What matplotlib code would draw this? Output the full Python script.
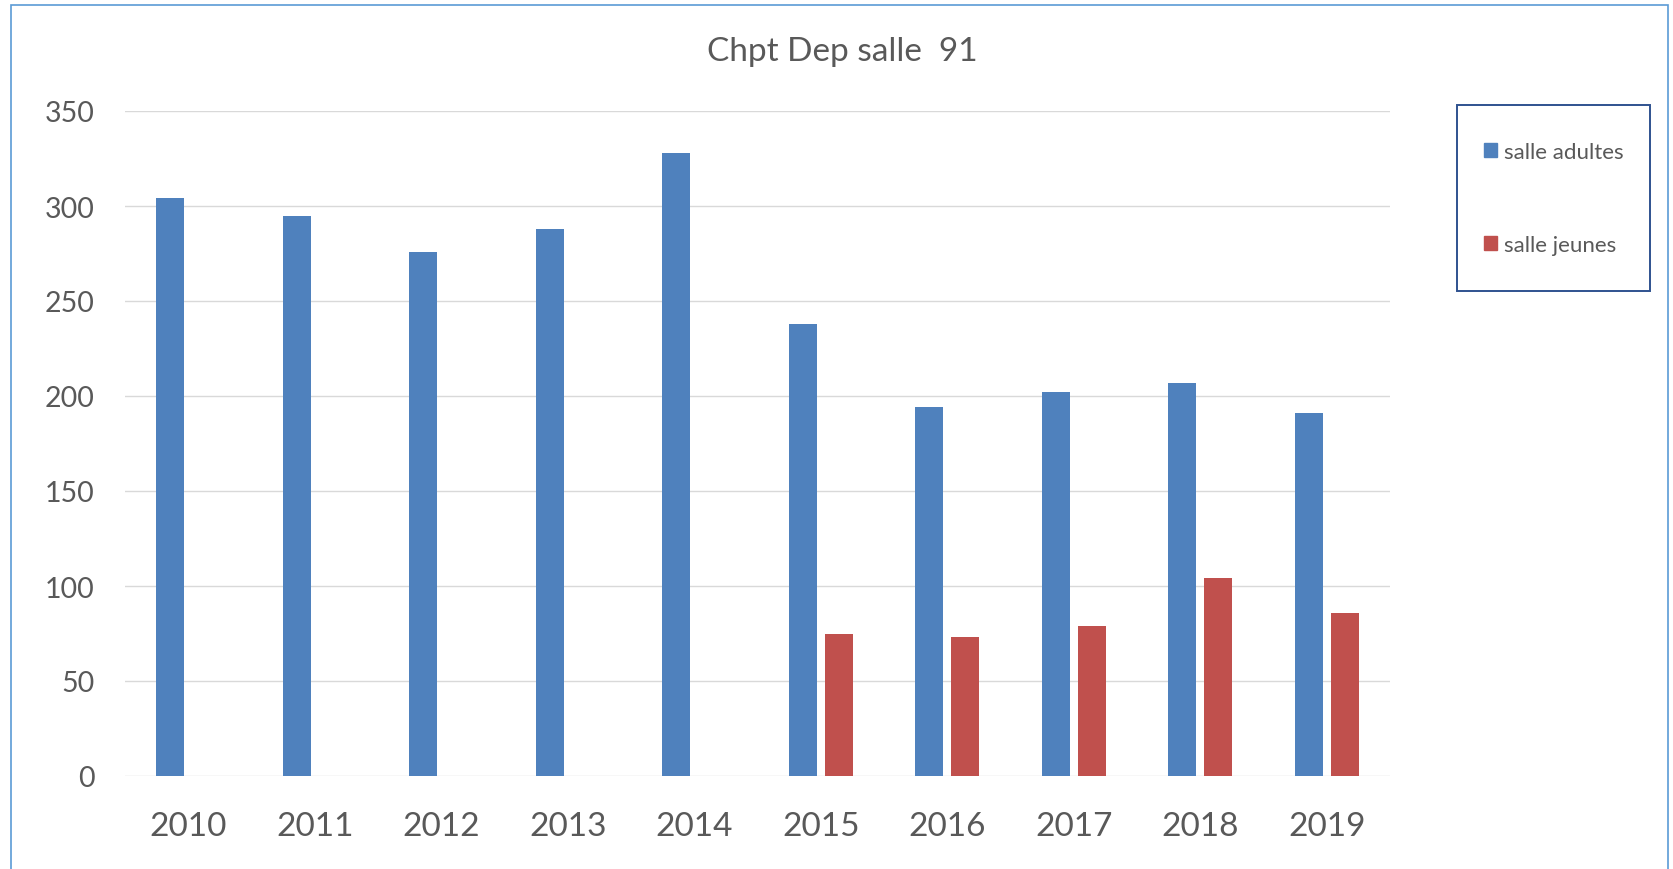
import numpy as np
import matplotlib
matplotlib.use('Agg')
import matplotlib.pyplot as plt
from matplotlib.patches import Rectangle, Patch

plt.rcParams['font.family'] = ['Lato', 'DejaVu Sans']

#####DATA######
years = ['2010', '2011', '2012', '2013', '2014', '2015', '2016', '2017', '2018', '2019']
adultes = [304, 295, 276, 288, 328, 238, 194, 202, 207, 191]
jeunes = [0, 0, 0, 0, 0, 75, 73, 79, 104, 86]

W, H = 1673, 870
fig = plt.figure(figsize=(W / 100, H / 100), dpi=100)
ax = fig.add_axes([125 / W, 1 - 777 / H, (1390 - 125) / W, (777 - 112) / H])

x = np.arange(len(years))
bw = 0.22
ax.bar(x - 0.143, adultes, bw, color='#4F81BD', label='salle adultes', zorder=3)
ax.bar(x + 0.143, jeunes, bw, color='#C0504D', label='salle jeunes', zorder=3)

ax.set_xlim(-0.5, len(years) - 0.5)
ax.set_ylim(0, 350)
ax.set_yticks(range(0, 351, 50))
ax.set_xticks(x)
ax.set_xticklabels(years)
ax.yaxis.grid(True, color='#D9D9D9', linewidth=1.0, zorder=0)
for s in ax.spines.values():
    s.set_visible(False)
ax.tick_params(axis='y', length=0, pad=22, labelsize=20.5, labelcolor='#595959')
ax.tick_params(axis='x', length=0, pad=25, labelsize=24, labelcolor='#595959')

fig.text(842 / W, 1 - 52 / H, 'Chpt Dep salle  91', ha='center', va='center',
         fontsize=24, color='#595959')

# legend box
fig.patches.append(Rectangle((1457 / W, 1 - 292 / H), (1650 - 1457) / W, (292 - 106) / H,
                             transform=fig.transFigure, fill=False,
                             edgecolor='#2F528F', linewidth=1.4))
handles = [Patch(color='#4F81BD'), Patch(color='#C0504D')]
fig.legend(handles, ['salle adultes', 'salle jeunes'], loc='center',
           bbox_to_anchor=(1554 / W, 1 - 199.5 / H), frameon=False,
           fontsize=16, labelcolor='#595959', labelspacing=3.3,
           handlelength=0.58, handleheight=0.58, handletextpad=0.3,
           borderpad=0, borderaxespad=0)

# outer chart border
fig.patches.append(Rectangle((11 / W, -0.02), (1668 - 11) / W, 1.02 - 6 / H,
                             transform=fig.transFigure, fill=False,
                             edgecolor='#5B9BD5', linewidth=1.2))

plt.savefig('out.png', dpi=100)
plt.close()
